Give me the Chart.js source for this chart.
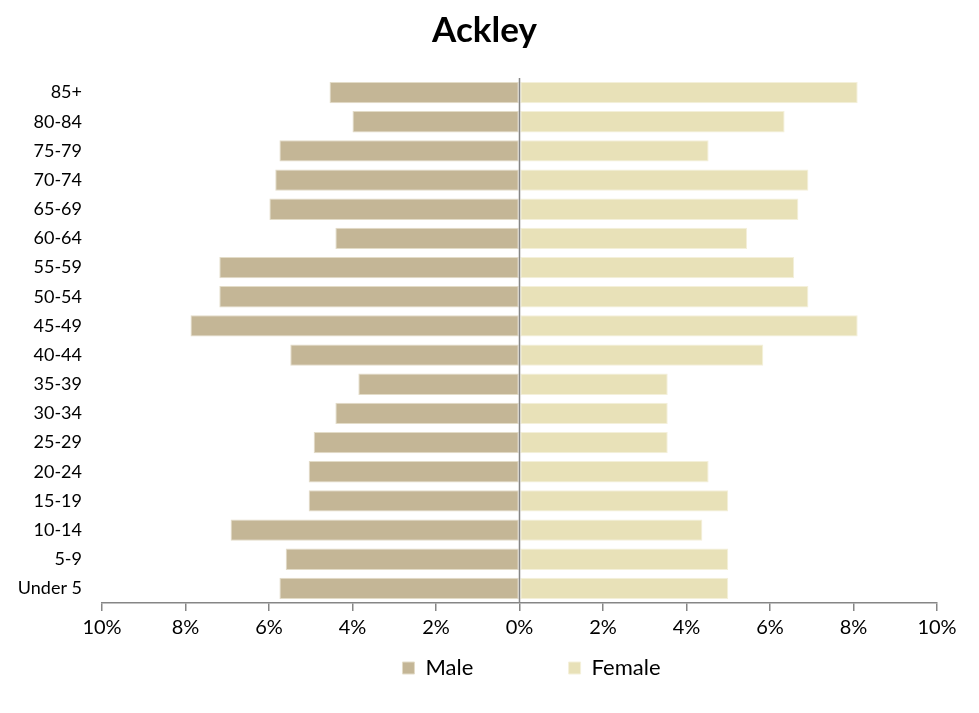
<!DOCTYPE html>
<html>
<head>
<meta charset="utf-8">
<script src="https://cdn.jsdelivr.net/npm/chart.js@4"></script>
<style>
    html, body { margin: 0; padding: 0; background: #fff; }
    #wrap { width: 979px; height: 713px; }
</style>
</head>
<body>
<div id="wrap"><canvas id="chartPyramid"></canvas></div>
<script>
// age groups, top of pyramid first
const ageGroups = ["85+", "80-84", "75-79", "70-74", "65-69", "60-64", "55-59", "50-54", "45-49",
                   "40-44", "35-39", "30-34", "25-29", "20-24", "15-19", "10-14", "5-9", "Under 5"];

// share of population, percent
const malePct = [4.55, 4.0, 5.75, 5.85, 5.99, 4.41, 7.19, 7.19, 7.88,
                 5.49, 3.86, 4.41, 4.93, 5.05, 5.05, 6.92, 5.6, 5.75];
const femalePct = [8.1, 6.35, 4.53, 6.92, 6.68, 5.45, 6.58, 6.92, 8.1,
                   5.84, 3.55, 3.55, 3.55, 4.53, 5.0, 4.38, 5.0, 5.0];

const xTicks = [-10, -8, -6, -4, -2, 0, 2, 4, 6, 8, 10];

const fontFamily = "Lato, 'Open Sans', sans-serif";
const axisGray = "#868686";

// vertical line at 0%, drawn over the bars
const zeroLine = {
    id: "zeroLine",
    afterDatasetsDraw(chart) {
        let x = chart.scales.x.getPixelForValue(0);
        let area = chart.chartArea;
        let c = chart.ctx;
        c.save();
        c.strokeStyle = axisGray;
        c.lineWidth = 1.5;
        c.beginPath();
        c.moveTo(x, area.top);
        c.lineTo(x, area.bottom);
        c.stroke();
        c.restore();
    }
};

// title and legend sit a little right of the canvas centre
const blockShift = {
    id: "blockShift",
    afterLayout(chart) {
        chart.titleBlock.left += 11;
        chart.titleBlock.right += 11;
        chart.legend.left += 58;
        chart.legend.right += 58;
    }
};

let ctx = document.getElementById("chartPyramid");
new Chart(ctx, {
    type: "bar",
    data: {
        labels: ageGroups,
        datasets: [{
            label: "Male",
            data: malePct.map(v => -v),
            backgroundColor: "#C4B696",
            borderColor: "#E3DCC8",
            borderWidth: 1,
            borderSkipped: false
        }, {
            label: "Female",
            data: femalePct,
            backgroundColor: "#E8E1B8",
            borderColor: "#F4F0DA",
            borderWidth: 1,
            borderSkipped: false
        }]
    },
    plugins: [zeroLine, blockShift],
    options: {
        indexAxis: "y",
        responsive: true,
        maintainAspectRatio: false,
        animation: false,
        layout: { padding: { left: 10, right: 42, top: 0, bottom: 24 } },
        datasets: { bar: { categoryPercentage: 0.73, barPercentage: 1 } },
        scales: {
            x: {
                stacked: true,
                min: -10,
                max: 10,
                afterBuildTicks: axis => { axis.ticks = xTicks.map(v => ({ value: v })); },
                ticks: {
                    callback: v => Math.abs(v) + "%",
                    color: "#000",
                    padding: 5,
                    font: { family: fontFamily, size: 20 }
                },
                grid: {
                    drawOnChartArea: false,
                    color: axisGray,
                    tickLength: 8,
                    lineWidth: 1.5
                },
                border: { color: axisGray, width: 1.5 }
            },
            y: {
                stacked: true,
                afterFit: axis => { axis.width = 92; },
                grid: { display: false, drawTicks: false },
                border: { display: false },
                ticks: {
                    color: "#000",
                    padding: 20,
                    font: { family: fontFamily, size: 18 }
                }
            }
        },
        plugins: {
            title: {
                display: true,
                text: "Ackley",
                color: "#000",
                font: { family: fontFamily, size: 35, weight: "bold" },
                padding: { top: 10, bottom: 26 }
            },
            legend: {
                position: "bottom",
                labels: {
                    color: "#000",
                    boxWidth: 12,
                    boxHeight: 12,
                    padding: 12,
                    font: { family: fontFamily, size: 22 },
                    generateLabels: chart => {
                        let items = Chart.defaults.plugins.legend.labels.generateLabels(chart);
                        // wide gap after the first entry, as in the original
                        items[0].text += "\u2003\u2003\u2003\u00A0\u00A0\u00A0\u00A0\u00A0\u00A0";
                        return items;
                    }
                }
            },
            tooltip: { enabled: false }
        }
    }
});
</script>
</body>
</html>
